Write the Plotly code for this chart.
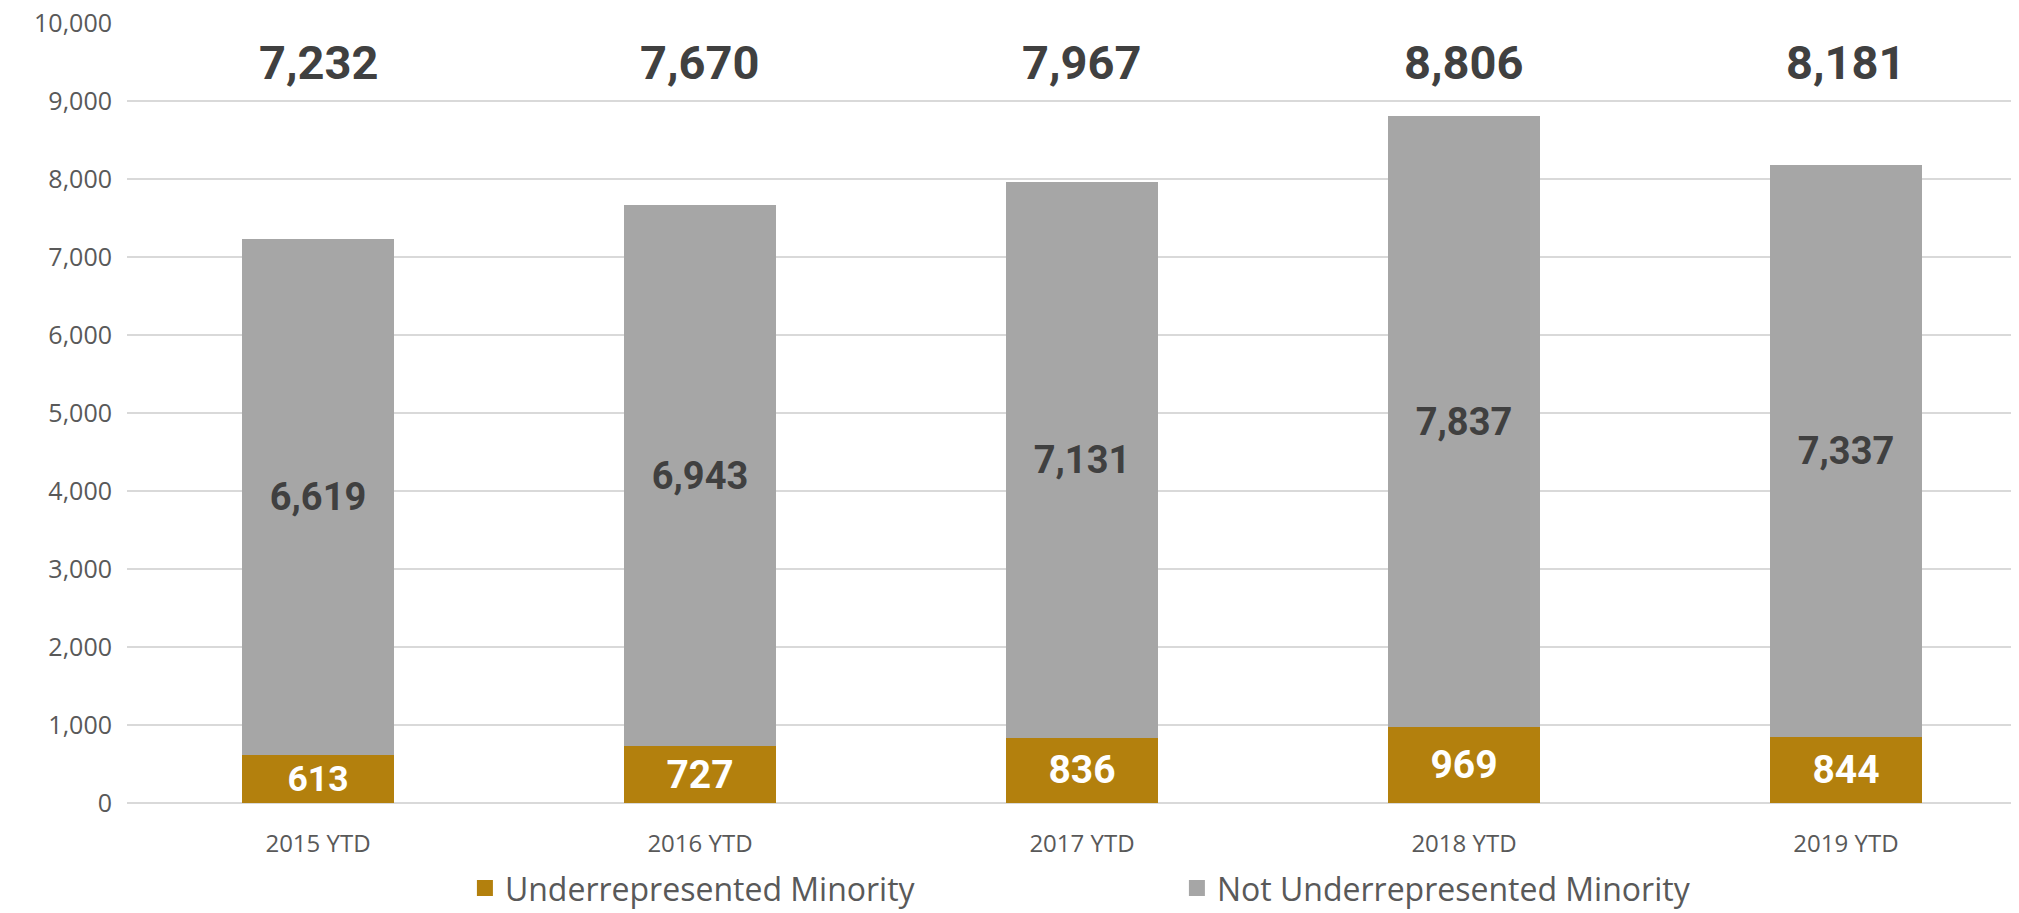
import plotly.graph_objects as go

categories = ["2015 YTD", "2016 YTD", "2017 YTD", "2018 YTD", "2019 YTD"]
urm = [613, 727, 836, 969, 844]
not_urm = [6619, 6943, 7131, 7837, 7337]
totals = [7232, 7670, 7967, 8806, 8181]
y_ticks = list(range(0, 10001, 1000))
series_names = ["Underrepresented Minority", "Not Underrepresented Minority"]

GOLD = "#B3800D"
GRAY = "#A6A6A6"
BIG = "Roboto, Liberation Sans, sans-serif"
REG = "Open Sans, Liberation Sans, sans-serif"

fig = go.Figure()
fig.add_trace(go.Bar(
    x=categories, y=urm, name=series_names[0], showlegend=False,
    marker=dict(color=GOLD, line=dict(width=0)),
    text=[f"{v:,}" for v in urm], textposition="inside", insidetextanchor="middle",
    textfont=dict(family=BIG, size=39, color="white", weight="bold"),
    width=0.4,
))
fig.add_trace(go.Bar(
    x=categories, y=not_urm, name=series_names[1], showlegend=False,
    marker=dict(color=GRAY, line=dict(width=0)),
    text=[f"{v:,}" for v in not_urm], textposition="inside", insidetextanchor="middle",
    textfont=dict(family=BIG, size=38, color="#404040", weight="bold"),
    width=0.4,
))
# legend entries with larger square swatches
for nm, col in zip(series_names, [GOLD, GRAY]):
    fig.add_trace(go.Scatter(
        x=[None], y=[None], mode="markers", name=nm,
        marker=dict(symbol="square", size=20, color=col),
        hoverinfo="skip",
    ))

for c, t in zip(categories, totals):
    fig.add_annotation(x=c, y=9500, text=f"{t:,}", showarrow=False,
                       font=dict(family=BIG, size=47, color="#404040", weight="bold"),
                       xanchor="center", yanchor="middle")

fig.update_layout(
    barmode="stack",
    width=2011, height=905,
    margin=dict(l=119, r=0, t=15, b=110, autoexpand=False),
    plot_bgcolor="white", paper_bgcolor="white",
    showlegend=True,
    legend=dict(orientation="h", x=0.1786, xanchor="left", y=-0.074, yanchor="top",
                font=dict(family=REG, size=32, color="#595959"),
                entrywidth=667, entrywidthmode="pixels", traceorder="normal",
                itemsizing="trace", tracegroupgap=0),
    font=dict(family=REG, color="#595959"),
)
fig.update_xaxes(range=[-0.5, 4.453], showgrid=False, showline=False, ticks="",
                 ticklabelstandoff=24,
                 tickfont=dict(family=REG, size=24, color="#595959"))
fig.update_yaxes(range=[0, 10000], tickvals=y_ticks, tickformat=",",
                 showgrid=True, gridcolor="#D9D9D9", gridwidth=2,
                 zeroline=True, zerolinecolor="#D9D9D9", zerolinewidth=2,
                 showline=False, ticks="", ticklabelstandoff=14,
                 ticklabeloverflow="allow",
                 tickfont=dict(family=REG, size=25, color="#595959"))

fig.write_html("out.html")
